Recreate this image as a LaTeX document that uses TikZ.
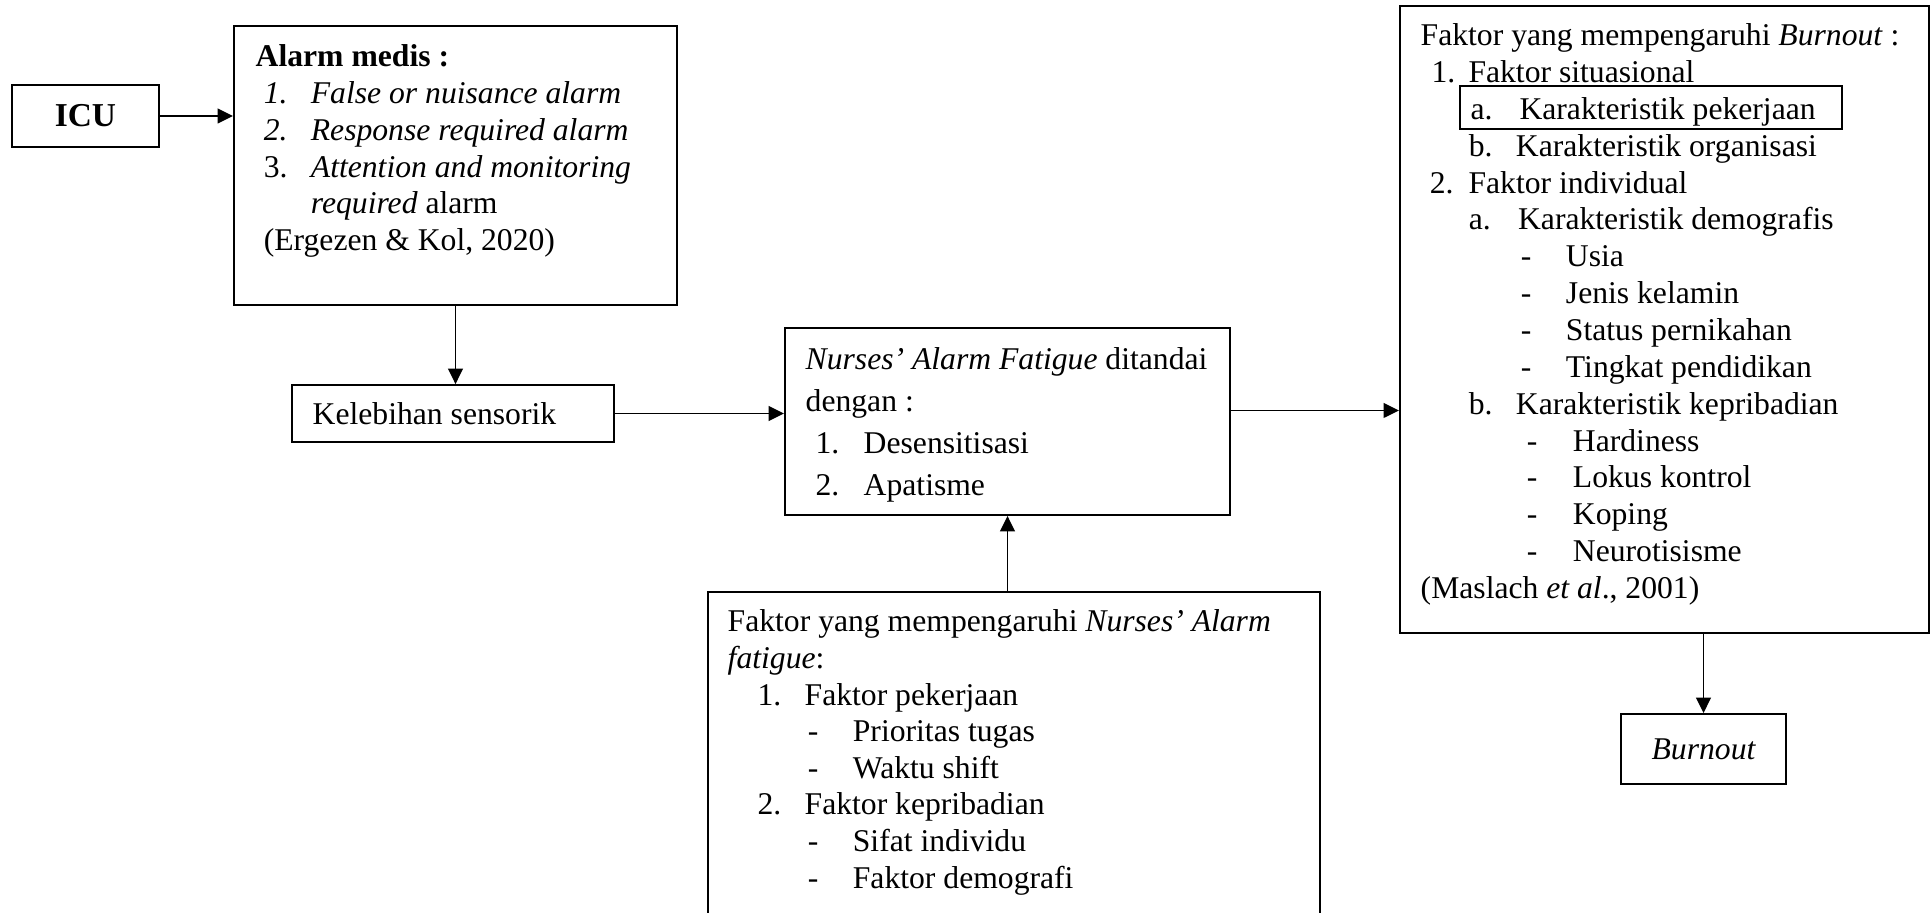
\documentclass[tikz,border=0pt]{standalone}
\usepackage{fontspec}
\setmainfont{Liberation Serif}
\usepackage{tikz}
\usetikzlibrary{arrows.meta,positioning,calc}

\newcommand{\listline}[3]{\hspace*{#1}\makebox[#2][l]{#3}}

\begin{document}
\begin{tikzpicture}[x=0.01cm,y=-0.01cm,
    box/.style={draw,line width=0.5pt,inner sep=0pt},
    txt/.style={anchor=base west,align=left,inner sep=0pt,font=\fontsize{9}{10.45}\selectfont},
    arr/.style={-{Triangle[length=4.4pt,width=4.2pt]},line width=0.5pt}]
    \useasboundingbox (0,0) rectangle (1930,913);
    \clip (0,0) rectangle (1930,913);

    % boxes
    \node [box,minimum width=1.47cm,minimum height=0.62cm,font=\fontsize{9.5}{10.45}\selectfont\bfseries] (icu) at (85.5,116) {ICU};
    \node [box,minimum width=4.43cm,minimum height=2.79cm] (alarm) at (455.5,165.5) {};
    \node [box,minimum width=3.22cm,minimum height=0.57cm] (sensor) at (453,413.5) {};
    \node [box,minimum width=4.45cm,minimum height=1.87cm] (fatigue) at (1007.5,421.5) {};
    \node [box,minimum width=6.12cm,minimum height=4.20cm] (faktor) at (1014,802) {};
    \node [box,minimum width=5.285cm,minimum height=6.27cm] (burnfak) at (1664.25,319.5) {};
    \node [box,minimum width=3.82cm,minimum height=0.43cm] (kerja) at (1651,107.5) {};
    \node [box,minimum width=1.65cm,minimum height=0.70cm,font=\fontsize{9}{10.45}\selectfont\itshape] (burnout) at (1703.5,749) {Burnout};

    % texts (placed at the baseline of their last line)
    \node [txt] (alarmtxt) at (255,250.6) {\textbf{Alarm medis :}\\
        \listline{2.3pt}{13.4pt}{\textit{1.}}\textit{False or nuisance alarm}\\
        \listline{2.3pt}{13.4pt}{\textit{2.}}\textit{Response required alarm}\\
        \listline{2.3pt}{13.4pt}{3.}\textit{Attention and monitoring}\\
        \listline{2.3pt}{13.4pt}{}\textit{required} alarm\\
        \hspace*{2.3pt}(Ergezen \& Kol, 2020)};
    \node [txt] (sensortxt) at (312,425) {Kelebihan sensorik};
    \node [txt,font=\fontsize{9}{11.95}\selectfont] (fatiguetxt) at (805,496) {\textit{Nurses’ Alarm Fatigue} ditandai\\
        dengan :\\
        \listline{2.8pt}{13.7pt}{1.}Desensitisasi\\
        \listline{2.8pt}{13.7pt}{2.}Apatisme};
    \node [txt,font=\fontsize{9}{10.4}\selectfont] (faktortxt) at (727,888) {Faktor yang mempengaruhi \textit{Nurses’ Alarm}\\
        \textit{fatigue}:\\
        \listline{8.5pt}{13.4pt}{1.}Faktor pekerjaan\\
        \listline{22.8pt}{12.8pt}{-}Prioritas tugas\\
        \listline{22.8pt}{12.8pt}{-}Waktu shift\\
        \listline{8.5pt}{13.4pt}{2.}Faktor kepribadian\\
        \listline{22.8pt}{12.8pt}{-}Sifat individu\\
        \listline{22.8pt}{12.8pt}{-}Faktor demografi};
    \node [txt,font=\fontsize{9}{10.48}\selectfont] (burnfaktxt) at (1420,598.5) {Faktor yang mempengaruhi \textit{Burnout} :\\
        \listline{3.1pt}{10.5pt}{1.}Faktor situasional\\
        \listline{14.2pt}{13.9pt}{a.}Karakteristik pekerjaan\\
        \listline{13.7pt}{13.4pt}{b.}Karakteristik organisasi\\
        \listline{2.6pt}{11.0pt}{2.}Faktor individual\\
        \listline{13.7pt}{14.0pt}{a.}Karakteristik demografis\\
        \listline{28.5pt}{12.8pt}{-}Usia\\
        \listline{28.5pt}{12.8pt}{-}Jenis kelamin\\
        \listline{28.5pt}{12.8pt}{-}Status pernikahan\\
        \listline{28.5pt}{12.8pt}{-}Tingkat pendidikan\\
        \listline{13.7pt}{13.4pt}{b.}Karakteristik kepribadian\\
        \listline{30.2pt}{13.1pt}{-}Hardiness\\
        \listline{30.2pt}{13.1pt}{-}Lokus kontrol\\
        \listline{30.2pt}{13.1pt}{-}Koping\\
        \listline{30.2pt}{13.1pt}{-}Neurotisisme\\
        (Maslach \textit{et al}., 2001)};

    % connectors
    \coordinate (fatout) at ([yshift=0.11cm]fatigue.east);
    \draw [arr] (icu.east) -- (icu.east -| alarm.west);
    \draw [arr] (alarm.south) -- (alarm.south |- sensor.north);
    \draw [arr] (sensor.east) -- (sensor.east -| fatigue.west);
    \draw [arr] (fatout) -- (fatout -| burnfak.west);
    \draw [arr] (fatigue.south |- faktor.north) -- (fatigue.south);
    \draw [arr] (burnout.north |- burnfak.south) -- (burnout.north);
\end{tikzpicture}
\end{document}
